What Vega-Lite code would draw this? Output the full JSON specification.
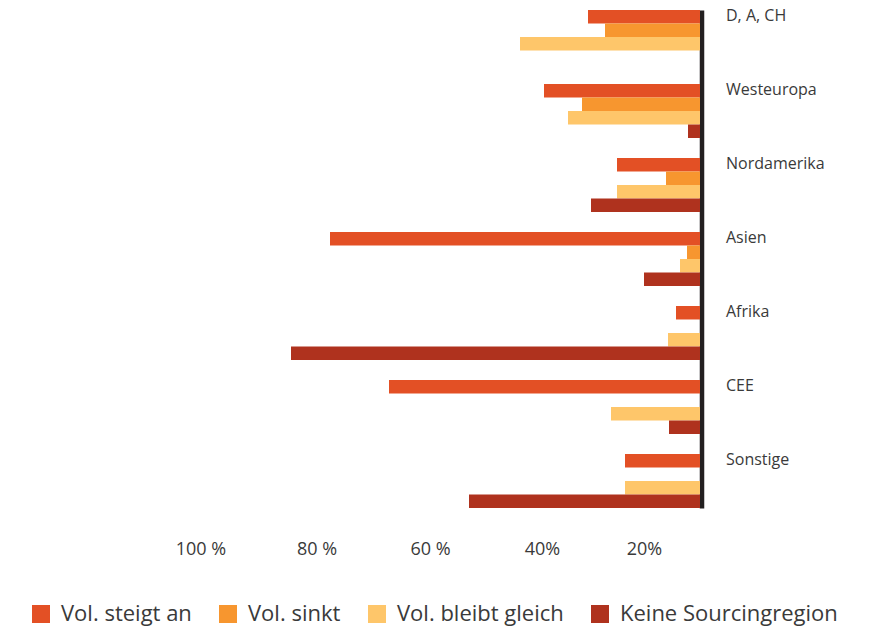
{
  "$schema": "https://vega.github.io/schema/vega-lite/v6.json",
  "width": 500,
  "height": 498,
  "autosize": "none",
  "padding": {"left": 200, "top": 10, "right": 171, "bottom": 122},
  "background": "white",
  "config": {"view": {"stroke": null}, "font": "Open Sans"},
  "data": {
    "values": [
      {"region": "D, A, CH", "series": "Vol. steigt an", "value": 22.4},
      {"region": "D, A, CH", "series": "Vol. sinkt", "value": 19},
      {"region": "D, A, CH", "series": "Vol. bleibt gleich", "value": 36},
      {"region": "Westeuropa", "series": "Vol. steigt an", "value": 31.2},
      {"region": "Westeuropa", "series": "Vol. sinkt", "value": 23.6},
      {"region": "Westeuropa", "series": "Vol. bleibt gleich", "value": 26.4},
      {"region": "Westeuropa", "series": "Keine Sourcingregion", "value": 2.4},
      {"region": "Nordamerika", "series": "Vol. steigt an", "value": 16.6},
      {"region": "Nordamerika", "series": "Vol. sinkt", "value": 6.8},
      {"region": "Nordamerika", "series": "Vol. bleibt gleich", "value": 16.6},
      {"region": "Nordamerika", "series": "Keine Sourcingregion", "value": 21.8},
      {"region": "Asien", "series": "Vol. steigt an", "value": 74},
      {"region": "Asien", "series": "Vol. sinkt", "value": 2.6},
      {"region": "Asien", "series": "Vol. bleibt gleich", "value": 4},
      {"region": "Asien", "series": "Keine Sourcingregion", "value": 11.2},
      {"region": "Afrika", "series": "Vol. steigt an", "value": 4.8},
      {"region": "Afrika", "series": "Vol. bleibt gleich", "value": 6.4},
      {"region": "Afrika", "series": "Keine Sourcingregion", "value": 81.8},
      {"region": "CEE", "series": "Vol. steigt an", "value": 62.2},
      {"region": "CEE", "series": "Vol. bleibt gleich", "value": 17.8},
      {"region": "CEE", "series": "Keine Sourcingregion", "value": 6.2},
      {"region": "Sonstige", "series": "Vol. steigt an", "value": 15},
      {"region": "Sonstige", "series": "Vol. bleibt gleich", "value": 15},
      {"region": "Sonstige", "series": "Keine Sourcingregion", "value": 46.2}
    ]
  },
  "mark": {"type": "bar"},
  "encoding": {
    "y": {
      "field": "region",
      "type": "nominal",
      "sort": ["D, A, CH", "Westeuropa", "Nordamerika", "Asien", "Afrika", "CEE", "Sonstige"],
      "scale": {"paddingInner": 0.27, "paddingOuter": 0},
      "axis": {
        "orient": "right",
        "title": null,
        "ticks": false,
        "domain": true,
        "domainColor": "#231f20",
        "domainWidth": 4.5,
        "offset": 1.5,
        "labelPadding": 24,
        "labelOffset": -21,
        "labelAlign": "left",
        "labelBaseline": "middle",
        "labelFontSize": 16,
        "labelColor": "#3a3a3a",
        "labelFont": "Open Sans"
      }
    },
    "yOffset": {
      "field": "series",
      "type": "nominal",
      "sort": ["Vol. steigt an", "Vol. sinkt", "Vol. bleibt gleich", "Keine Sourcingregion"],
      "scale": {"paddingInner": 0, "paddingOuter": 0}
    },
    "x": {
      "field": "value",
      "type": "quantitative",
      "scale": {"domain": [0, 100], "reverse": true, "nice": false, "zero": true},
      "axis": {
        "title": null,
        "domain": false,
        "ticks": false,
        "grid": false,
        "labelFlush": false,
        "labelOverlap": false,
        "values": [99.9, 76.7, 54, 31.6, 11.2],
        "labelExpr": "datum.value > 90 ? '100 %' : datum.value > 70 ? '80 %' : datum.value > 50 ? '60 %' : datum.value > 25 ? '40%' : '20%'",
        "labelPadding": 32,
        "labelFontSize": 18,
        "labelColor": "#3a3a3a",
        "labelFont": "Open Sans"
      }
    },
    "color": {
      "field": "series",
      "type": "nominal",
      "scale": {
        "domain": ["Vol. steigt an", "Vol. sinkt", "Vol. bleibt gleich", "Keine Sourcingregion"],
        "range": ["#e35025", "#f7962f", "#fec66a", "#af321e"]
      },
      "legend": {
        "title": null,
        "orient": "none",
        "direction": "horizontal",
        "legendX": -170,
        "legendY": 593,
        "padding": 0,
        "symbolType": "square",
        "symbolSize": 324,
        "symbolStrokeWidth": 0,
        "labelFontSize": 22,
        "labelOffset": 9,
        "labelColor": "#3a3a3a",
        "labelFont": "Open Sans",
        "columnPadding": 25,
        "labelLimit": 400
      }
    }
  }
}
